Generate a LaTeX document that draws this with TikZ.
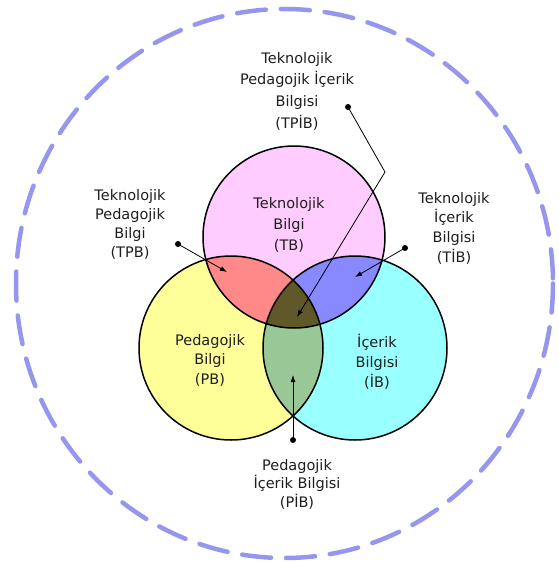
\documentclass[tikz,border=0pt]{standalone}
\usepackage{fontspec}
\setmainfont{DejaVu Sans}
\usetikzlibrary{arrows.meta}
\definecolor{tbpink}{RGB}{255,204,255}
\definecolor{pbyellow}{RGB}{255,255,153}
\definecolor{ibcyan}{RGB}{153,255,255}
\definecolor{tpbred}{RGB}{255,136,136}
\definecolor{tibblue}{RGB}{136,136,255}
\definecolor{pibgreen}{RGB}{153,200,150}
\definecolor{tpibdark}{RGB}{96,88,40}
\definecolor{ringblue}{RGB}{150,150,238}
\definecolor{txt}{RGB}{30,30,30}
\tikzset{
  lbl/.style={align=center, text=txt, inner sep=0pt},
  dotstart/.style={circle, fill=black, inner sep=0pt, minimum size=6pt},
  pointer/.style={line width=0.8pt, -{Latex[length=7pt,width=5pt]}},
  outline/.style={draw=black, line width=1.5pt}
}
\begin{document}
\begin{tikzpicture}[x=1pt,y=-1pt]
\useasboundingbox (0,0) rectangle (558,563);
% outer dashed ring
\draw[ringblue, line width=4.5pt, line cap=round, dash pattern=on 29pt off 15pt]
  (284.5,283.5) ellipse [x radius=268.5, y radius=274.5];
% circles
\coordinate (cT) at (294,237);
\coordinate (cP) at (231,348);
\coordinate (cI) at (355,348);
\fill[tbpink] (cT) circle (91);
\fill[pbyellow] (cP) circle (92);
\fill[ibcyan] (cI) circle (92);
\begin{scope}
  \clip (cT) circle (91);
  \fill[tpbred] (cP) circle (92);
  \fill[tibblue] (cI) circle (92);
\end{scope}
\begin{scope}
  \clip (cP) circle (92);
  \fill[pibgreen] (cI) circle (92);
  \clip (cI) circle (92);
  \fill[tpibdark] (cT) circle (91);
\end{scope}
\draw[outline] (cT) circle (91);
\draw[outline] (cP) circle (92);
\draw[outline] (cI) circle (92);
% labels inside circles
\node[lbl, font=\fontsize{14.5}{21}\selectfont] (tb) at (289,225) {Teknolojik\\Bilgi\\(TB)};
\node[lbl, font=\fontsize{14.5}{19.5}\selectfont] (pb) at (210,360) {Pedagojik\\Bilgi\\(PB)};
\node[lbl, font=\fontsize{14.5}{20}\selectfont] (ib) at (377,362) {İçerik\\Bilgisi\\(İB)};
% outer labels
\node[lbl, font=\fontsize{14.5}{21.7}\selectfont] (tpib) at (297,91) {Teknolojik\\Pedagojik İçerik\\Bilgisi\\(TPİB)};
\node[lbl, font=\fontsize{14.5}{19}\selectfont] (tpb) at (130,224) {Teknolojik\\Pedagojik\\Bilgi\\(TPB)};
\node[lbl, font=\fontsize{14.5}{19.7}\selectfont] (tib) at (454,228) {Teknolojik\\İçerik\\Bilgisi\\(TİB)};
\node[lbl, font=\fontsize{14.5}{18.5}\selectfont] (pib) at (297,484) {Pedagojik\\İçerik Bilgisi\\(PİB)};
% pointers
\node[dotstart] (d1) at (178,244) {};
\coordinate (t1) at (227,272);
\draw[pointer] (d1.center) -- (t1);
\node[dotstart] (d2) at (405,248) {};
\coordinate (t2) at (355,277);
\draw[pointer] (d2.center) -- (t2);
\node[dotstart] (d3) at (348,107) {};
\coordinate (b3) at (385,172);
\coordinate (t3) at (297,317);
\draw[pointer] (d3.center) -- (b3) -- (t3);
\node[dotstart] (d4) at (293,440) {};
\coordinate (t4) at (293,375);
\draw[pointer] (d4.center) -- (t4);
\end{tikzpicture}
\end{document}
